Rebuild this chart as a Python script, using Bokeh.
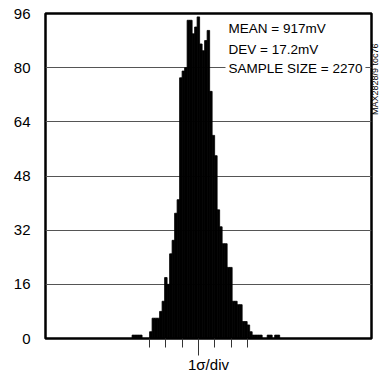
import math
from bokeh.plotting import figure
from bokeh.models import FixedTicker, Label, Range1d, LinearAxis
from bokeh.embed import file_html
from bokeh.resources import INLINE

# ---- data ----
mean_mv = 917.0
dev_mv = 17.2
sample_size = 2270
bin_width_mv = 2.64
first_bin_left_mv = 846.9
counts = [1, 1, 1, 1, 0, 0, 0,
          2, 6, 6, 6, 8, 11, 18, 16, 25, 29, 37, 41,
          77, 79, 80, 94, 94, 90, 92, 95, 87, 85, 88, 91, 73,
          60, 54, 38, 33, 28, 28, 21, 21, 11, 11, 10, 10, 5, 5, 4, 2,
          1, 1, 1, 1, 0, 0, 1, 1, 0, 1, 1]
y_ticks = [0, 16, 32, 48, 64, 80, 96]
sigma_steps = [-3, -2, -1, 1, 2, 3]
stats_lines = ["MEAN = 917mV", "DEV = 17.2mV", "SAMPLE SIZE = 2270"]
side_note = "MAX2828/9 toc76"
x_title = "1\u03c3/div"

FONT = "Liberation Sans"

lefts = [first_bin_left_mv + i * bin_width_mv for i in range(len(counts))]
rights = [l + bin_width_mv for l in lefts]

W, H = 389, 376
BL, BR, BT, BB = 45, 18, 13, 38
X0, X1 = 755.55, 1099.55
p = figure(width=W, height=H, output_backend="svg", toolbar_location=None,
           x_range=Range1d(X0, X1), y_range=Range1d(0, 96),
           min_border_left=BL, min_border_right=BR, min_border_top=BT, min_border_bottom=BB)
p.background_fill_color = "white"
p.border_fill_color = "white"
p.outline_line_color = "black"
p.outline_line_width = 2.5
p.outline_line_alpha = 1.0

p.quad(left=lefts, right=rights, top=counts, bottom=0, fill_color="black",
       line_color="black", line_width=0.8)

ypx = (H - BT - BB) / 96.0          # pixels per count
xpx = (W - BL - BR) / (X1 - X0)     # pixels per mV
x_at = lambda px: X0 + (px - BL) / xpx          # canvas px -> data x
y_at = lambda py: 96.0 - (py - BT) / ypx        # canvas px -> data y

# y axis
ya = p.left[0]
ya.ticker = FixedTicker(ticks=y_ticks)
ya.major_tick_out = 0
ya.major_tick_in = 0
ya.minor_tick_out = 0
ya.minor_tick_in = 0
ya.axis_line_color = None
ya.major_label_standoff = 15
ya.major_label_text_font = FONT
ya.major_label_text_font_size = "15px"
ya.major_label_text_color = "black"

p.ygrid.ticker = FixedTicker(ticks=y_ticks)
p.ygrid.grid_line_color = "#555555"
p.ygrid.grid_line_width = 1
p.xgrid.grid_line_color = None

# x axis: centre tick long, sigma ticks short, title below
xa = p.below[0]
xa.ticker = FixedTicker(ticks=[mean_mv], minor_ticks=[mean_mv + s * dev_mv for s in sigma_steps])
xa.major_tick_out = 17
xa.major_tick_in = 0
xa.minor_tick_out = 9
xa.minor_tick_in = 0
xa.major_tick_line_color = "#333333"
xa.minor_tick_line_color = "#333333"
xa.major_tick_line_width = 1
xa.minor_tick_line_width = 1
xa.axis_line_color = None
xa.major_label_overrides = {mean_mv: ""}
xa.major_label_text_font_size = "1px"
xa.major_label_standoff = 0
xa.axis_label = x_title
xa.axis_label_standoff = 0
xa.axis_label_text_font = FONT
xa.axis_label_text_font_size = "15px"
xa.axis_label_text_font_style = "normal"
xa.axis_label_text_color = "black"

# side note as a rotated label (reading bottom to top) on a bare right axis
note_y = y_at(28.5)
ra = LinearAxis(ticker=FixedTicker(ticks=[note_y]), major_label_overrides={note_y: side_note},
                major_label_orientation=math.pi / 2, major_tick_out=0, major_tick_in=0,
                minor_tick_out=0, minor_tick_in=0, axis_line_color=None,
                major_label_standoff=4, major_label_text_font=FONT,
                major_label_text_font_size="9px", major_label_text_color="black")
p.add_layout(ra, "right")

centres_px = [27.5, 49.0, 67.5]
for line, cpx in zip(stats_lines, centres_px):
    p.add_layout(Label(x=x_at(225.0), y=y_at(cpx), text=line, text_font=FONT,
                       text_font_size="13.5px", text_align="left", text_baseline="middle",
                       text_color="black",
                       background_fill_color="white" if line.startswith("SAMPLE") else None,
                       padding=3))

open("out.html", "w").write(file_html(p, INLINE))
